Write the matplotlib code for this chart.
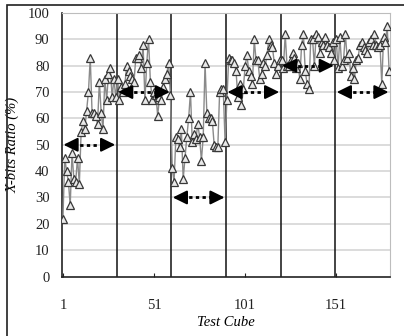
import matplotlib
matplotlib.use('Agg')
import matplotlib.pyplot as plt
import numpy as np

plt.rcParams['font.family'] = ['Liberation Serif', 'DejaVu Serif']

# X-bits ratio (%) per test cube, 30 cubes per block
seg1 = [22, 45, 40, 36, 27, 47, 37, 36, 45, 35, 55, 59, 56, 63, 70,
        83, 62, 62, 61, 58, 74, 62, 56, 75, 67, 77, 79, 68, 75, 68]
seg2 = [75, 67, 72, 70, 73, 80, 78, 76, 75, 74, 83, 83, 84, 79, 88,
        67, 81, 90, 74, 67, 70, 69, 61, 68, 67, 72, 75, 77, 81, 69]
seg3 = [41, 36, 53, 52, 49, 56, 37, 45, 53, 60, 70, 51, 54, 52, 58,
        53, 44, 53, 81, 62, 60, 60, 59, 50, 49, 49, 70, 71, 71, 51]
seg4 = [67, 83, 82, 82, 81, 78, 68, 73, 65, 71, 80, 84, 78, 76, 73,
        90, 82, 82, 75, 77, 81, 80, 84, 90, 88, 87, 81, 77, 80, 82]
seg5 = [82, 79, 92, 80, 80, 82, 85, 83, 79, 81, 75, 88, 92, 78, 73,
        71, 90, 90, 80, 92, 91, 85, 89, 88, 91, 88, 87, 85, 89, 82]
seg6 = [90, 79, 91, 80, 82, 92, 83, 85, 76, 79, 75, 82, 83, 88, 89,
        87, 86, 85, 89, 90, 88, 92, 88, 87, 88, 73, 91, 89, 95, 78]
ratio = seg1 + seg2 + seg3 + seg4 + seg5 + seg6
cubes = np.arange(1, len(ratio) + 1)

# block boundaries and the level of each block's arrow
bounds = [0.5, 30.5, 60.5, 90.5, 120.5, 150.5, 180.5]
levels = [50, 70, 30, 70, 80, 70]
xticks = [1, 51, 101, 151]

fig = plt.figure(figsize=(4.04, 3.36), dpi=100)
ax = fig.add_axes([0.1535, 0.177, 0.8118, 0.7843])

# outer frame
fig.patches.append(plt.Rectangle((7 / 404, -0.1), 1.2, 1.1 - 5 / 336,
                                 transform=fig.transFigure, fill=False,
                                 edgecolor='#202020', linewidth=1.2))

ax.set_ylim(0, 100)
ax.set_xlim(bounds[0], bounds[-1])
ax.set_yticks(range(0, 101, 10))
ax.set_xticks(xticks)
for y in range(10, 100, 10):
    ax.axhline(y, color='#dcdcdc', linewidth=1.4, zorder=0)

for b in bounds[1:-1]:
    ax.axvline(b, color='#111111', linewidth=1.1, zorder=1)

ax.plot(cubes, ratio, color='#8a8a8a', linewidth=1.0, marker='^',
        markersize=5.3, markerfacecolor='#e8e8e8', markeredgecolor='#383838',
        markeredgewidth=0.9, zorder=3)

# dotted double arrows per block
for i, lv in enumerate(levels):
    x0, x1 = bounds[i] + 0.8, bounds[i + 1] - 0.8
    h = 5
    ax.plot([x0 + h, x1 - h], [lv, lv], color='black', linestyle=(0, (1.2, 1.2)),
            linewidth=2, zorder=4)
    for a, b in [(x0 + h + 1, x0), (x1 - h - 1, x1)]:
        ax.annotate('', xy=(b, lv), xytext=(a, lv),
                    arrowprops=dict(arrowstyle='-|>,head_length=0.85,head_width=0.42',
                                    color='black', linewidth=1.5,
                                    shrinkA=0, shrinkB=0), zorder=5)

for s in ['top', 'right']:
    ax.spines[s].set_color('#bdbdbd')
for s in ['left', 'bottom']:
    ax.spines[s].set_color('#222222')
    ax.spines[s].set_linewidth(1.2)

ax.tick_params(axis='y', length=0, pad=9, labelsize=10.5, colors='#222222')
ax.tick_params(axis='x', direction='in', length=3, pad=16, labelsize=10.5,
               colors='#222222')

ax.set_ylabel('X-bits Ratio (%)', fontstyle='italic', fontsize=10.5, labelpad=6)
ax.set_xlabel('Test Cube', fontstyle='italic', fontsize=10.5, labelpad=3)

fig.savefig('out.png', dpi=100)
